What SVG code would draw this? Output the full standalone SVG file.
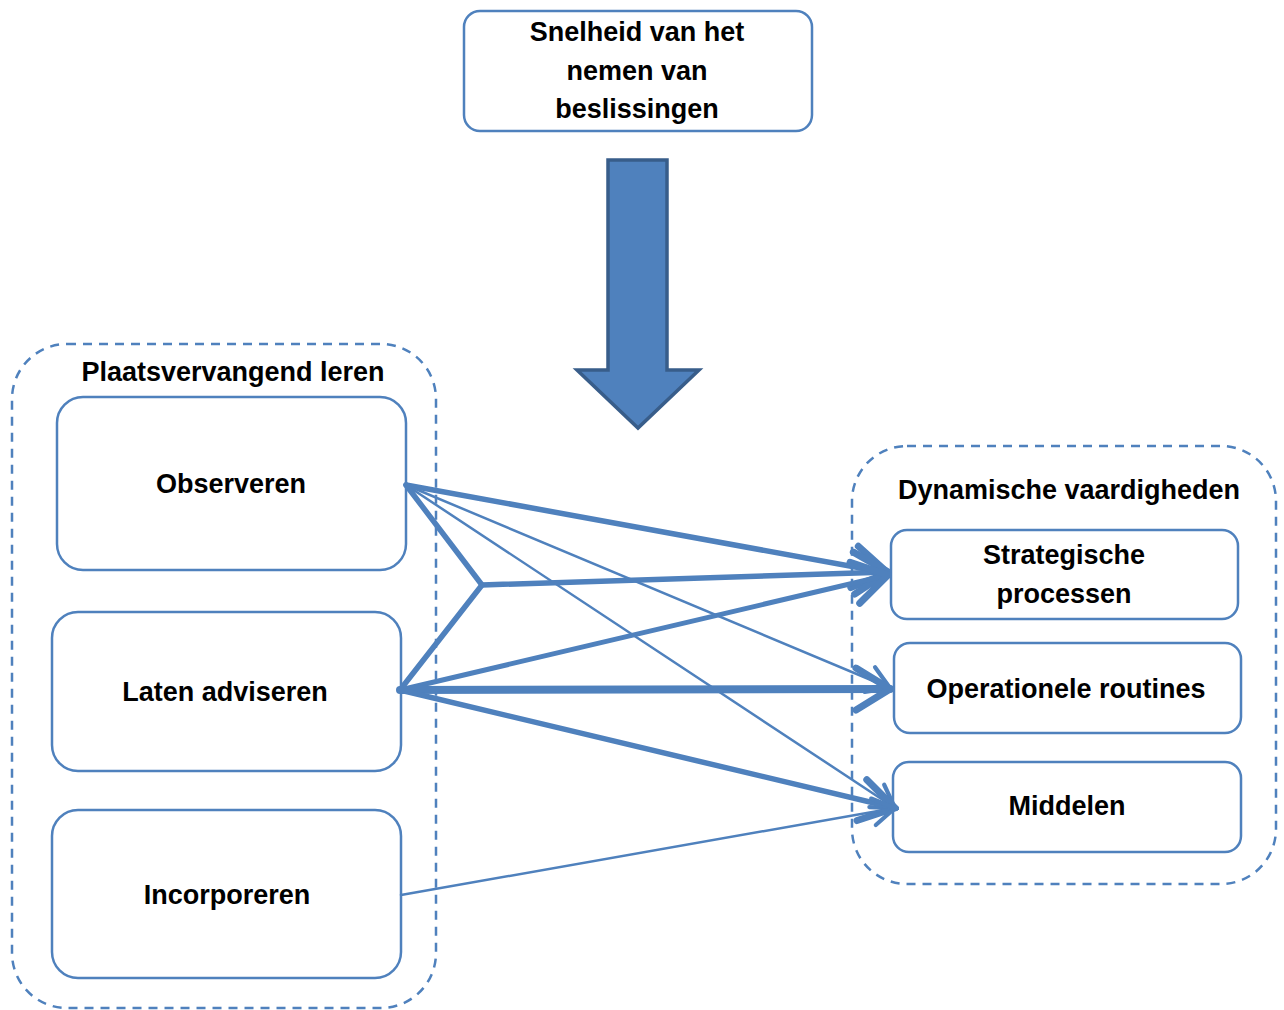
<svg xmlns="http://www.w3.org/2000/svg" width="1284" height="1010" viewBox="0 0 1284 1010">
<style>
text{font-family:"Liberation Sans",Arial,sans-serif;font-weight:bold;font-size:27px;fill:#000;text-anchor:middle;dominant-baseline:central}
.box{fill:#fff;stroke:#4F81BD;stroke-width:2.5}
.grp{fill:none;stroke:#4F81BD;stroke-width:2.5;stroke-dasharray:9 7}
.c{fill:none;stroke:#4F81BD;stroke-linecap:round;stroke-linejoin:round}
</style>
<defs>
<marker id="ah" markerUnits="userSpaceOnUse" viewBox="0 0 44 52" refX="40" refY="26" markerWidth="44" markerHeight="52" orient="auto">
<path d="M6 5 L40 26 L6 47" fill="none" stroke="#4F81BD" stroke-width="7" stroke-linecap="round" stroke-linejoin="miter"/>
</marker>
<marker id="ahs" markerUnits="userSpaceOnUse" viewBox="0 0 40 50" refX="36" refY="25" markerWidth="34" markerHeight="42" orient="auto">
<path d="M10 9 L36 25 L10 41" fill="none" stroke="#4F81BD" stroke-width="5" stroke-linecap="round"/>
</marker>
</defs>
<g id="group-plaatsvervangend">
<rect class="grp" x="12" y="344" width="424" height="664" rx="55"/>
<text x="233" y="372">Plaatsvervangend leren</text>
</g>
<g id="group-dynamische">
<rect class="grp" x="852" y="446" width="424" height="438" rx="55"/>
<text x="1069" y="490">Dynamische vaardigheden</text>
</g>
<g id="node-snelheid">
<rect class="box" x="464" y="11" width="348" height="120" rx="16"/>
<text x="637" y="32">Snelheid van het</text>
<text x="637" y="71">nemen van</text>
<text x="637" y="109">beslissingen</text>
</g>
<g id="node-bigarrow">
<path d="M608 160 H667 V370 H699 L638 428 L577 370 H608 Z" fill="#4F81BD" stroke="#385D8A" stroke-width="3.5"/>
</g>
<g id="node-observeren">
<rect class="box" x="57" y="397" width="349" height="173" rx="26"/>
<text x="231" y="484">Observeren</text>
</g>
<g id="node-laten">
<rect class="box" x="52" y="612" width="349" height="159" rx="26"/>
<text x="225" y="692">Laten adviseren</text>
</g>
<g id="node-incorporeren">
<rect class="box" x="52" y="810" width="349" height="168" rx="26"/>
<text x="227" y="895">Incorporeren</text>
</g>
<g id="node-strategische">
<rect class="box" x="891" y="530" width="347" height="89" rx="16"/>
<text x="1064" y="555">Strategische</text>
<text x="1064" y="594">processen</text>
</g>
<g id="node-operationele">
<rect class="box" x="894" y="643" width="347" height="90" rx="16"/>
<text x="1066" y="689">Operationele routines</text>
</g>
<g id="node-middelen">
<rect class="box" x="893" y="762" width="348" height="90" rx="16"/>
<text x="1067" y="806">Middelen</text>
</g>
<g id="connectors">
<path class="c" d="M406 485 L888 573" stroke-width="5.5" marker-end="url(#ah)"/>
<path class="c" d="M406 485 L890 688" stroke-width="2.5" marker-end="url(#ahs)"/>
<path class="c" d="M406 485 L895 808" stroke-width="2.5" marker-end="url(#ahs)"/>
<path class="c" d="M406 485 L482 585 L888 572" stroke-width="5.5" marker-end="url(#ah)"/>
<path class="c" d="M400 690 L482 585" stroke-width="5.5"/>
<path class="c" d="M400 690 L888 575" stroke-width="5" marker-end="url(#ah)"/>
<path class="c" d="M400 690 L890 689" stroke-width="8" marker-end="url(#ah)"/>
<path class="c" d="M400 690 L895 808" stroke-width="5.5" marker-end="url(#ah)"/>
<path class="c" d="M401 895 L895 808" stroke-width="2.5" marker-end="url(#ahs)"/>
</g>
</svg>
